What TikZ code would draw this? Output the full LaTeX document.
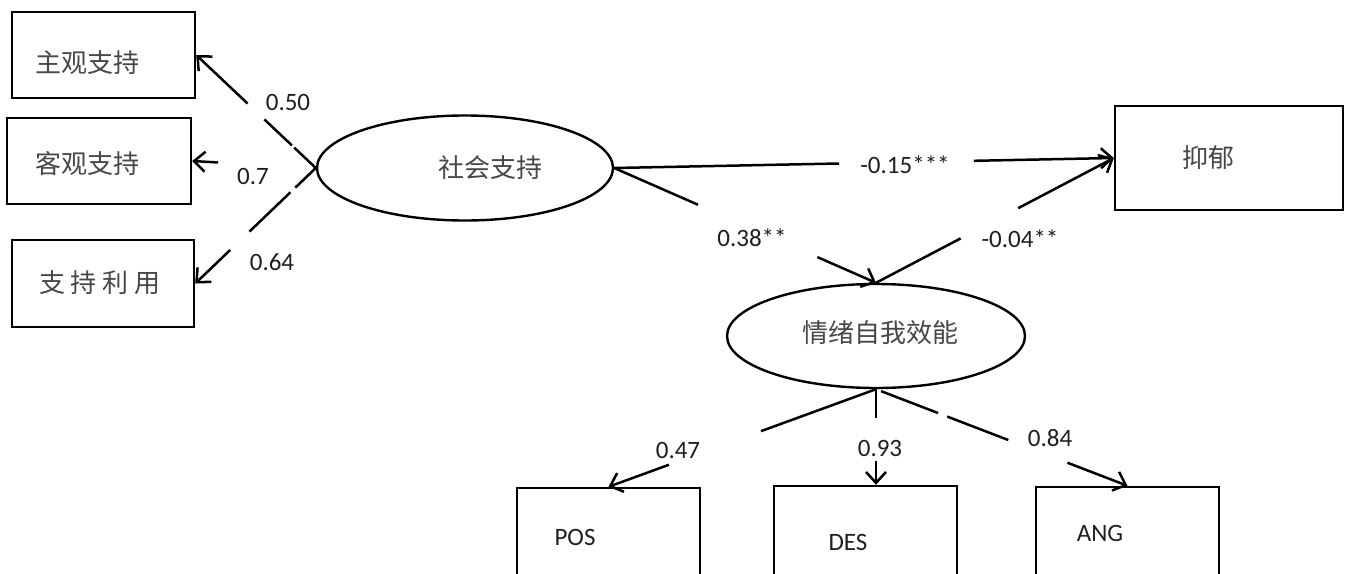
\documentclass[tikz,border=0pt]{standalone}
\usepackage{fontspec}
\setmainfont{Carlito}
\newfontfamily\cjk{Noto Sans CJK SC}
\usetikzlibrary{shapes.geometric,arrows.meta,calc}
\begin{document}
\begin{tikzpicture}[x=1pt,y=-1pt,
  box/.style={draw, line width=2.4pt, rectangle, inner sep=0pt},
  lat/.style={ellipse, draw, line width=2.4pt, inner sep=0pt},
  cn/.style={font=\cjk\fontsize{26}{30}\selectfont, text=black!72, inner sep=0pt},
  num/.style={font=\fontsize{25}{30}\selectfont, text=black!88, inner sep=0pt},
  conn/.style={line width=2.5pt},
  tipped/.style={conn, -{Straight Barb[length=11pt,width=20pt]}}
]
\fill[white] (0,0) rectangle (1349,573);
\useasboundingbox (0,0) rectangle (1349,573);

% boxes
\node[box, minimum width=183pt, minimum height=86pt] (b1) at (103.5,55) {};
\node[box, minimum width=184pt, minimum height=86pt] (b2) at (99,161) {};
\node[box, minimum width=182pt, minimum height=87pt] (b3) at (103,283.5) {};
\node[box, minimum width=228pt, minimum height=104pt] (dep) at (1229,158) {};
\node[box, minimum width=183pt, minimum height=112pt] (pos) at (608.5,544) {};
\node[box, minimum width=183pt, minimum height=114pt] (des) at (865.5,543) {};
\node[box, minimum width=183pt, minimum height=112pt] (ang) at (1127.5,543) {};

% latent variables
\node[lat, minimum width=296pt, minimum height=105pt] (sup) at (465,168) {};
\node[lat, minimum width=298pt, minimum height=104pt] (emo) at (876,336) {};
\coordinate (desin) at (emo.south |- des.north);

% texts
\node[cn] (t1) at (87,63) {主观支持};
\node[cn] (t2) at (87,163) {客观支持};
\node[cn] (t3) at (100,283) {支\hspace{6pt}持\hspace{6pt}利\hspace{6pt}用};
\node[cn] (t4) at (1208,158) {抑郁};
\node[cn] (t5) at (490,168) {社会支持};
\node[cn] (t6) at (880,333) {情绪自我效能};
\node[num] (t7) at (575,537) {POS};
\node[num] (t8) at (848,542) {DES};
\node[num] (t9) at (1100,533) {ANG};

% coefficient labels
\node[num] (l1) at (288,102) {0.50};
\node[num] (l2) at (253,176) {0.7};
\node[num] (l3) at (272,262) {0.64};
\node[num] (l4) at (905,165) {-0.15***};
\node[num] (l5) at (752,238) {0.38**};
\node[num] (l6) at (1020,239) {-0.04**};
\node[num] (l7) at (678,450) {0.47};
\node[num] (l8) at (880,448) {0.93};
\node[num] (l9) at (1050,438) {0.84};

% social support -> indicators
\draw[conn] (sup.west) -- ($(sup.west)!0.18!(b1.east)$);
\draw[conn] ($(sup.west)!0.20!(b1.east)$) -- ($(sup.west)!0.43!(b1.east)$);
\draw[tipped] ($(sup.west)!0.57!(b1.east)$) -- (b1.east);
\draw[tipped] ($(sup.west)!0.79!(b2.east)$) -- (b2.east);
\draw[conn] (sup.west) -- ($(sup.west)!0.17!(b3.east)$);
\draw[conn] ($(sup.west)!0.21!(b3.east)$) -- ($(sup.west)!0.55!(b3.east)$);
\draw[tipped] ($(sup.west)!0.71!(b3.east)$) -- (b3.east);

% structural paths
\draw[conn] (sup.east) -- ($(sup.east)!0.45!(dep.west)$);
\draw[tipped] ($(sup.east)!0.72!(dep.west)$) -- (dep.west);
\draw[conn] (sup.east) -- ($(sup.east)!0.32!(emo.north)$);
\draw[tipped] ($(sup.east)!0.776!(emo.north)$) -- (emo.north);
\draw[conn] (emo.north) -- ($(emo.north)!0.356!(dep.west)$);
\draw[tipped] ($(emo.north)!0.598!(dep.west)$) -- (dep.west);

% emotion efficacy -> indicators
\draw[conn] (emo.south) -- ($(emo.south)!0.43!(pos.north)$);
\draw[tipped] ($(emo.south)!0.774!(pos.north)$) -- (pos.north);
\draw[conn] (emo.south) -- ($(emo.south)!0.30!(desin)$);
\draw[tipped] ($(emo.south)!0.755!(desin)$) -- (desin);
\draw[conn] ($(emo.south)!0.02!(ang.north)$) -- ($(emo.south)!0.247!(ang.north)$);
\draw[conn] ($(emo.south)!0.283!(ang.north)$) -- ($(emo.south)!0.526!(ang.north)$);
\draw[tipped] ($(emo.south)!0.761!(ang.north)$) -- (ang.north);
\end{tikzpicture}
\end{document}
